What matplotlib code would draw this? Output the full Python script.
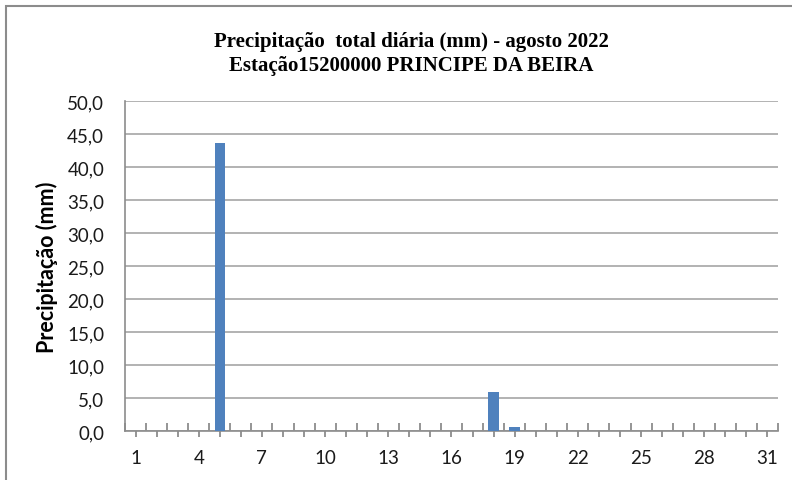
import numpy as np
import matplotlib
matplotlib.use('Agg')
import matplotlib.pyplot as plt
import matplotlib.transforms as mtransforms
from matplotlib.patches import Rectangle
from matplotlib.ticker import FixedLocator, FuncFormatter

# data
days = np.arange(1, 32)
rain = np.zeros(31)
rain[4] = 43.6   # dia 5
rain[17] = 5.9   # dia 18
rain[18] = 0.6   # dia 19
xtick_days = [1, 4, 7, 10, 13, 16, 19, 22, 25, 28, 31]
yticks = np.arange(0, 55, 5)

title = 'Precipitação  total diária (mm) - agosto 2022\nEstação15200000 PRINCIPE DA BEIRA'
ylabel = 'Precipitação (mm)'

axis_gray = '#8c8c8c'
plt.rcParams.update({
    'font.family': 'Lato',
    'xtick.labelsize': 13.5,
    'ytick.labelsize': 13.5,
    'xtick.color': axis_gray,
    'xtick.labelcolor': '#1a1a1a',
    'ytick.labelcolor': '#1a1a1a',
    'xtick.major.size': 0,
    'xtick.major.pad': 13,
    'xtick.minor.size': 6,
    'xtick.minor.width': 1.3,
    'ytick.major.size': 0,
    'ytick.major.pad': 15,
})

W, H = 792, 481
fig = plt.figure(figsize=(W/100, H/100), dpi=100)
ax = fig.add_axes([125/W, 1 - 432/H, (778-125)/W, (432-102)/H])

# outer chart border (only left/top visible)
fig.patches.append(Rectangle((6/W, -0.1), 1.2, 1 - 7/H + 0.1, transform=fig.transFigure,
                             fill=False, edgecolor=axis_gray, linewidth=1.5))

ax.bar(days, rain, width=0.5, color='#4f81bd', zorder=3)

ax.set_xlim(0.5, 31.5)
ax.set_ylim(0, 50)
ax.set_yticks(yticks)
ax.yaxis.set_major_formatter(FuncFormatter(lambda v, p: ('%.1f' % v).replace('.', ',')))
ax.grid(axis='y', color='#a6a6a6', linewidth=1.2, zorder=0)

# x ticks: labels at category centers, inward marks at category boundaries
ax.xaxis.set_major_locator(FixedLocator(days))
ax.xaxis.set_major_formatter(FuncFormatter(lambda v, p: '%d' % v if int(round(v)) in xtick_days else ''))
ax.xaxis.set_minor_locator(FixedLocator(np.arange(0.5, 32, 1)))
ax.tick_params(axis='x', which='minor', direction='in')

# outward marks under each category centre
trans = mtransforms.blended_transform_factory(ax.transData, ax.transAxes)
ax.vlines(days, -6 / 330, 0, transform=trans, colors=axis_gray, linewidth=1.3, clip_on=False)

for s in ['top', 'right']:
    ax.spines[s].set_visible(False)
for s in ['left', 'bottom']:
    ax.spines[s].set_color(axis_gray)
    ax.spines[s].set_linewidth(1.2)

ax.set_ylabel(ylabel, fontsize=15.5, fontweight='bold')
ax.yaxis.set_label_coords((58 - 125) / 653, 0.5)
fig.text(411/W, 1 - 54/H, title, ha='center', va='center', fontsize=15, fontweight='bold',
         family='Liberation Serif', linespacing=1.2)

fig.savefig('out.png', dpi=100)
